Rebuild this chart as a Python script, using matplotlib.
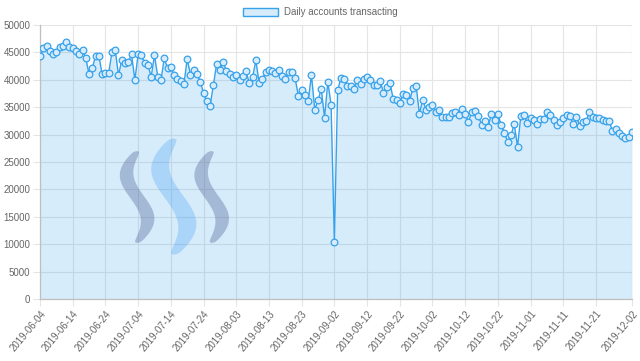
"""
Daily accounts transacting, 2019-06-04 .. 2019-12-02 (one value per day),
with the Steem mark as a faint watermark. Saves out.png (640x361).
"""

import matplotlib
matplotlib.use('Agg')
import matplotlib.pyplot as plt
import numpy as np
import pandas as pd
from matplotlib.patches import Polygon, Patch

plt.rcParams['font.family'] = ['Liberation Sans', 'DejaVu Sans']

C_LINE = '#36a2eb'
C_FILL = (54 / 255, 162 / 255, 235 / 255, 0.2)
C_TEXT = '#666666'
C_GRID = '#e5e5e5'

# ── data ─────────────────────────────────────────────────────────────────
start = '2019-06-04'
end = '2019-12-02'
accounts = [
    44240, 45760, 46240, 45270, 44730, 45030, 45880, 46240, 46970, 46060,
    45700, 45330, 44670, 45450, 43940, 40970, 42120, 44360, 44360, 40970,
    41270, 41210, 45030, 45450, 40790, 43580, 42970, 43270, 44610, 39940,
    44610, 44480, 42970, 42670, 40550, 44480, 40550, 40000, 43880, 42120,
    42300, 40910, 40120, 39820, 39150, 43760, 40910, 41820, 41090, 39640,
    37580, 36060, 35270, 38970, 42850, 41700, 43270, 41520, 41030, 40420,
    40850, 40000, 40610, 41520, 39390, 40420, 43520, 39390, 40120, 41390,
    41820, 41520, 41210, 41820, 40610, 40180, 41330, 41330, 40240, 37090,
    38180, 37270, 36180, 40850, 34550, 36240, 38300, 33100, 39600, 35450,
    10420, 38100, 40250, 40180, 38790, 38790, 38240, 39880, 39270, 40180,
    40420, 40000, 39030, 38970, 39820, 37640, 38610, 39390, 36480, 36240,
    35700, 37330, 37150, 36060, 38480, 38910, 33760, 36360, 34550, 34970,
    35390, 34120, 34550, 33210, 33210, 33210, 33940, 34120, 33580, 34730,
    33760, 32300, 34090, 34300, 33400, 31820, 32550, 31330, 33760, 32610,
    33760, 31700, 30300, 28610, 29820, 31940, 27760, 33330, 33640, 32120,
    33030, 32610, 31880, 32910, 32910, 34060, 33520, 32730, 31760, 32300,
    33090, 33520, 33450, 31940, 33150, 31640, 32300, 32420, 34120, 33210,
    33090, 33090, 32730, 32550, 32420, 30730, 31030, 30300, 29700, 29390,
    29520, 30420,
]
dates = pd.date_range(start, periods=len(accounts), freq='D')
tick_dates = list(pd.date_range(start, '2019-11-21', freq='10D')) + [pd.Timestamp(end)]
tick_labels = [d.strftime('%Y-%m-%d') for d in tick_dates]
y_ticks = np.arange(0, 50001, 5000)

# ── figure ───────────────────────────────────────────────────────────────
fig = plt.figure(figsize=(6.4, 3.61), dpi=100)
ax = fig.add_axes([0.0625, 0.172, 0.925, 0.759])


def steem_stroke(cx, y_top, y_bot, amp, wmax, color, alpha):
    # one S-shaped stroke of the logo, in axes fraction
    t = np.linspace(0, 1, 100)
    xc = cx - amp * np.sin(2 * np.pi * t)
    yc = y_top + (y_bot - y_top) * t
    w = wmax * np.sin(np.pi * t) ** 0.3 / 2
    pts = np.vstack([np.column_stack([xc - w, yc]),
                     np.column_stack([xc + w, yc])[::-1]])
    ax.add_patch(Polygon(pts, closed=True, transform=ax.transAxes,
                         facecolor=color, edgecolor='none', alpha=alpha, zorder=1.5))


# watermark (decorative)
px = 1 / 592
steem_stroke(0.164, 0.540, 0.204, 10.5 * px, 15 * px, (0.33, 0.40, 0.60), 0.38)
steem_stroke(0.226, 0.586, 0.161, 13.5 * px, 20 * px, (0.30, 0.64, 0.95), 0.32)
steem_stroke(0.290, 0.540, 0.204, 10.5 * px, 15 * px, (0.33, 0.40, 0.60), 0.38)

ax.fill_between(dates, accounts, 0, color=C_FILL, lw=0, zorder=1)
ax.plot(dates, accounts, color=C_LINE, lw=1, marker='o', ms=4.8,
        mfc='#d7ebfb', mec=C_LINE, mew=0.9, zorder=3)

ax.set_xlim(dates[0], dates[-1])
ax.set_ylim(0, 50000)
ax.set_xticks(tick_dates)
ax.set_xticklabels(tick_labels, rotation=50, ha='right', rotation_mode='anchor',
                   fontsize=7, color=C_TEXT)
ax.set_yticks(y_ticks)
ax.set_yticklabels([str(v) for v in y_ticks], fontsize=7, color=C_TEXT)
ax.tick_params(axis='both', length=5, color=C_GRID, pad=2)

ax.set_axisbelow(True)
ax.grid(True, color=C_GRID, lw=0.8)
for side in ['top', 'right']:
    ax.spines[side].set_visible(False)
for side in ['left', 'bottom']:
    ax.spines[side].set_color('#bfbfbf')
    ax.spines[side].set_linewidth(0.9)

handle = Patch(facecolor=C_FILL, edgecolor=C_LINE, lw=1)
fig.legend([handle], ['Daily accounts transacting'], loc='center',
           bbox_to_anchor=(0.5, 0.966), frameon=False, fontsize=7,
           handlelength=3.6, handleheight=1.0, handletextpad=0.6,
           labelcolor=C_TEXT)

fig.savefig('out.png', dpi=100)
